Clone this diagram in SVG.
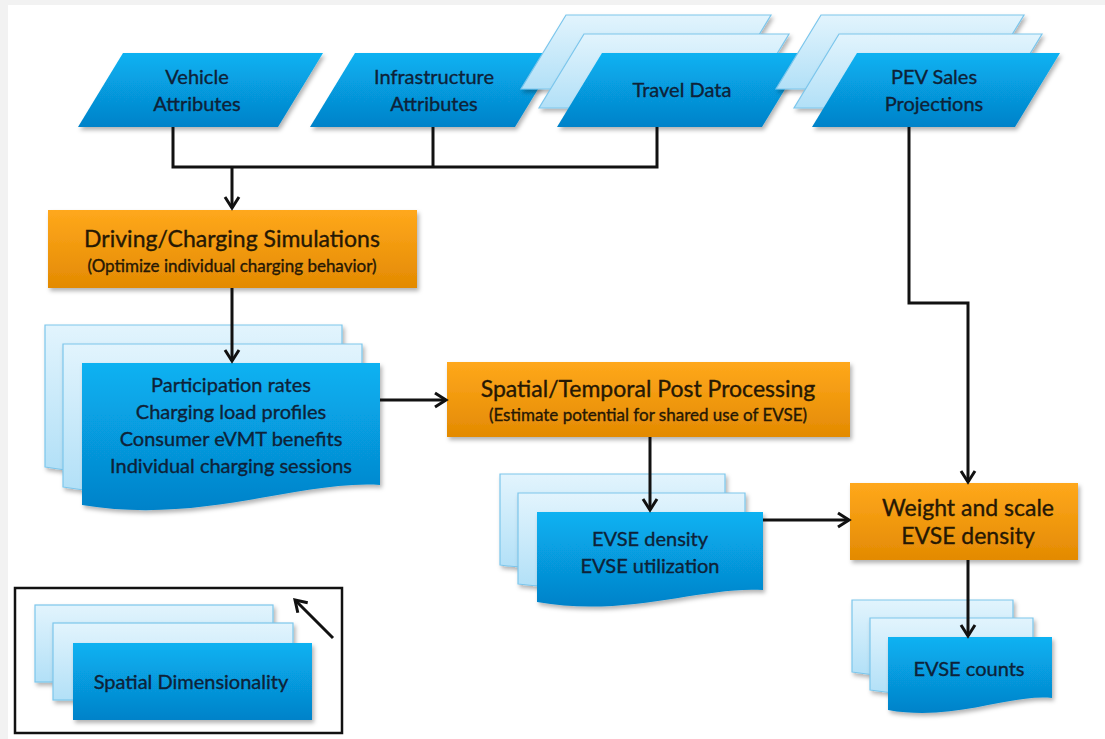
<svg xmlns="http://www.w3.org/2000/svg" width="1105" height="739" viewBox="0 0 1105 739">
  <defs>
    <linearGradient id="blue" x1="0" y1="0" x2="0" y2="1">
      <stop offset="0" stop-color="#08b2f2"/>
      <stop offset="1" stop-color="#0582c9"/>
    </linearGradient>
    <linearGradient id="pale" x1="0" y1="0" x2="0" y2="1">
      <stop offset="0" stop-color="#e2f4fd"/>
      <stop offset="1" stop-color="#b2e0f7"/>
    </linearGradient>
    <linearGradient id="orange" x1="0" y1="0" x2="0" y2="1">
      <stop offset="0" stop-color="#ffa81c"/>
      <stop offset="1" stop-color="#e38a02"/>
    </linearGradient>
    <filter id="shadow" x="-10%" y="-10%" width="125%" height="135%">
      <feDropShadow dx="2" dy="3" stdDeviation="2" flood-color="#000" flood-opacity="0.3"/>
    </filter>
    <marker id="arrow" viewBox="0 0 18 18" refX="15" refY="9" markerWidth="18" markerHeight="18" markerUnits="userSpaceOnUse" orient="auto">
      <path d="M4,2 L15,9 L4,16" fill="none" stroke="#111" stroke-width="3" stroke-linejoin="miter"/>
    </marker>
    <style>
      .front { fill: url(#blue); filter: url(#shadow); }
      .back { fill: url(#pale); stroke: #7cc6ec; stroke-width: 1.2; filter: url(#shadow); }
      .proc { fill: url(#orange); filter: url(#shadow); }
      .t { font-family: Lato, "Open Sans", sans-serif; text-anchor: middle; stroke-width: 0.35px; }
      .bt { fill: #0e2238; stroke: #0e2238; font-size: 20px; }
      .dt { fill: #0e2238; stroke: #0e2238; font-size: 20px; }
      .ot { fill: #261804; stroke: #261804; font-size: 23px; }
      .os { fill: #261804; stroke: #261804; font-size: 17px; }
      .wire { fill: none; stroke: #111; stroke-width: 3; }
    </style>
  </defs>

  <!-- page -->
  <rect x="0" y="0" width="1105" height="739" fill="#f2f2f2"/>
  <rect x="8" y="5" width="1097" height="734" fill="#ffffff"/>

  <!-- inputs -->
  <g id="vehicle-attributes">
    <polygon class="front" points="123,53 323,53 278,127 78,127"/>
    <text class="t bt" x="197" y="84">Vehicle</text>
    <text class="t bt" x="197" y="111">Attributes</text>
  </g>
  <g id="infrastructure-attributes">
    <polygon class="front" points="355,53 560,53 515,127 310,127"/>
    <text class="t bt" x="434" y="84">Infrastructure</text>
    <text class="t bt" x="434" y="111">Attributes</text>
  </g>
  <g id="travel-data">
    <polygon class="back" points="566,15 771,15 726,89 521,89"/>
    <polygon class="back" points="584,34 789,34 744,108 539,108"/>
    <polygon class="front" points="602,53 807,53 762,127 557,127"/>
    <text class="t bt" x="682" y="97">Travel Data</text>
  </g>
  <g id="pev-sales-projections">
    <polygon class="back" points="821,15 1024,15 979,89 776,89"/>
    <polygon class="back" points="839,34 1042,34 997,108 794,108"/>
    <polygon class="front" points="857,53 1060,53 1015,127 812,127"/>
    <text class="t bt" x="934" y="84">PEV Sales</text>
    <text class="t bt" x="934" y="111">Projections</text>
  </g>

  <!-- processes -->
  <g id="driving-charging-simulations">
    <rect class="proc" x="48" y="210" width="369" height="78"/>
    <text class="t ot" x="232" y="247">Driving/Charging Simulations</text>
    <text class="t os" x="232" y="272">(Optimize individual charging behavior)</text>
  </g>
  <g id="spatial-temporal-post-processing">
    <rect class="proc" x="447" y="362" width="403" height="75"/>
    <text class="t ot" x="648" y="397">Spatial/Temporal Post Processing</text>
    <text class="t os" x="648" y="421">(Estimate potential for shared use of EVSE)</text>
  </g>
  <g id="weight-and-scale">
    <rect class="proc" x="850" y="483" width="228" height="77"/>
    <text class="t ot" x="968" y="516">Weight and scale</text>
    <text class="t ot" x="968" y="544">EVSE density</text>
  </g>

  <!-- outputs -->
  <g id="simulation-outputs">
    <path class="back" d="M45,325 H342 V447 C262,442 162,487 45,467 Z"/>
    <path class="back" d="M63,344 H362 V467 C282,462 182,507 63,487 Z"/>
    <path class="front" d="M82,363 H380 V485 C300,480 201,525 82,505 Z"/>
    <text class="t dt" x="231" y="392">Participation rates</text>
    <text class="t dt" x="231" y="419">Charging load profiles</text>
    <text class="t dt" x="231" y="446">Consumer eVMT benefits</text>
    <text class="t dt" x="231" y="473">Individual charging sessions</text>
  </g>
  <g id="evse-density-utilization">
    <path class="back" d="M500,474 H725 V553 C665,549 590,577 500,565 Z"/>
    <path class="back" d="M518,493 H745 V572 C685,568 610,596 518,584 Z"/>
    <path class="front" d="M537,512 H763 V590 C702,586 627,618 537,602 Z"/>
    <text class="t dt" x="650" y="546">EVSE density</text>
    <text class="t dt" x="650" y="573">EVSE utilization</text>
  </g>
  <g id="evse-counts">
    <path class="back" d="M852,600 H1013 V660 C970,656 918,684 852,672 Z"/>
    <path class="back" d="M870,618 H1033 V678 C990,674 938,702 870,690 Z"/>
    <path class="front" d="M888,637 H1052 V698 C1008,694 954,722 888,710 Z"/>
    <text class="t dt" x="969" y="676">EVSE counts</text>
  </g>

  <!-- legend -->
  <g id="legend">
    <rect x="15" y="588" width="327" height="145" fill="none" stroke="#111" stroke-width="2.5"/>
    <rect class="back" x="35" y="605" width="238" height="77"/>
    <rect class="back" x="53" y="623" width="240" height="77"/>
    <rect class="front" x="73" y="643" width="239" height="77"/>
    <text class="t dt" x="191" y="689">Spatial Dimensionality</text>
    <path class="wire" d="M333,638 L295,600" marker-end="url(#arrow)"/>
  </g>

  <!-- connectors -->
  <g id="connectors">
    <path class="wire" d="M173,127 V167 H657 V127"/>
    <path class="wire" d="M433,127 V167"/>
    <path class="wire" d="M232,167 V208" marker-end="url(#arrow)"/>
    <path class="wire" d="M909,127 V303 H968 V482" marker-end="url(#arrow)"/>
    <path class="wire" d="M232,288 V361" marker-end="url(#arrow)"/>
    <path class="wire" d="M380,400 H446" marker-end="url(#arrow)"/>
    <path class="wire" d="M650,437 V510" marker-end="url(#arrow)"/>
    <path class="wire" d="M763,520 H849" marker-end="url(#arrow)"/>
    <path class="wire" d="M968,560 V636" marker-end="url(#arrow)"/>
  </g>
</svg>
